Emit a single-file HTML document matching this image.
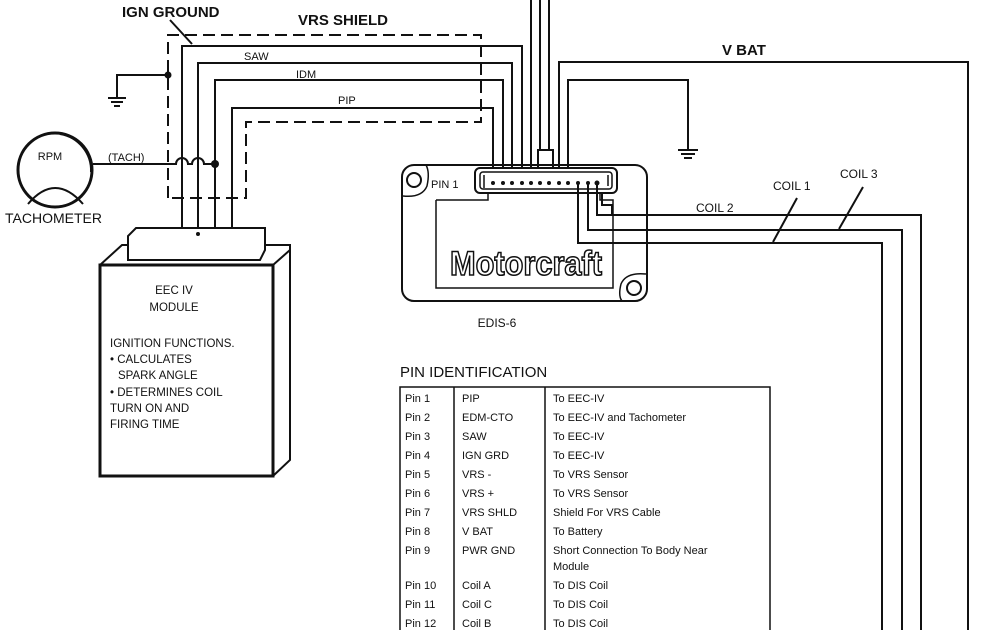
<!DOCTYPE html>
<html><head><meta charset="utf-8"><style>
html,body{margin:0;padding:0;background:#fff;}
svg{display:block;}
text{font-family:"Liberation Sans",sans-serif;fill:#111;}
</style></head><body>
<svg width="1000" height="630" viewBox="0 0 1000 630" xmlns="http://www.w3.org/2000/svg">
<g fill="none" stroke="#111" stroke-width="2">
<!-- shield dashed -->
<path d="M168,198 V35 H481 V122 H246 V198 H168" stroke-dasharray="12,6"/>
<!-- wires from EEC -->
<path d="M182,228 V46 H522 V168"/>
<path d="M198,228 V63 H512 V168"/>
<path d="M215,228 V80 H503 V168"/>
<path d="M232,228 V108 H493 V168"/>
<!-- ground from shield -->
<path d="M168,75 H117 V98"/>
<path d="M108,98 H126 M111,102 H123 M114,106 H120"/>
<!-- ign ground arrow -->
<path d="M170,20 L192,44"/>
<!-- tach line -->
<path d="M93,164 H176 a6,6 0 0 1 12,0 H192 a6,6 0 0 1 12,0 H215"/>
<!-- top verticals -->
<path d="M531,0 V168 M540,0 V150 M549,0 V150"/>
<path d="M538,168 V150 H553 V168"/>
<!-- VBAT -->
<path d="M559,168 V62 H968 V630"/>
<!-- power ground -->
<path d="M568,168 V80 H688 V150"/>
<path d="M678,150 H698 M681,154 H695 M684,158 H692"/>
<!-- coil wires -->
<path d="M597,183 V215 H921 V630"/>
<path d="M588,183 V230 H902 V630"/>
<path d="M578,183 V243 H882 V630"/>
<path d="M602,193 V205 H612 V215"/>
<!-- coil arrows -->
<path d="M797,198 L773,242 M863,187 L839,229"/>
<!-- EDIS module -->
<rect x="402" y="165" width="245" height="136" rx="12"/>
<path d="M403,196 Q422,198 427,186 Q430,172 426,165" stroke-width="1.5"/>
<circle cx="414" cy="180" r="7"/>
<path d="M646,274 Q626,272 621,284 Q618,296 622,301" stroke-width="1.5"/>
<circle cx="634" cy="288" r="7"/>
<rect x="475" y="168" width="142" height="25" rx="5"/>
<rect x="480" y="172" width="132" height="17" rx="3" stroke-width="1.5"/>
<path d="M484,188 V175 M608,175 V186" stroke-width="1.5"/>
<path d="M436,200 H488 V193 M600,193 V200 H613 V288 H436 V200" stroke-width="1.5"/>
<!-- EEC module -->
<path d="M100,265 H273 V476 H100 Z" stroke-width="3"/>
<path d="M100,265 L122,245 H128 M265,245 H290 V460 L273,476 M273,265 L290,250"/>
<path d="M128,260 V236 L136,228 H265 V250 L260,260 Z"/>
<!-- tachometer -->
<circle cx="55" cy="170" r="37" stroke-width="3"/>
<path d="M28,204 Q55,172 83,204"/>
<path d="M60,134 a37,37 0 0 1 31,38"/>
<!-- table -->
<path d="M400,630 V387 H770 V630 M454,387 V630 M545,387 V630" stroke-width="1.5"/>
</g>
<g fill="#111">
<circle cx="168" cy="75" r="3.5"/>
<circle cx="215" cy="164" r="4"/>
<circle cx="198" cy="234" r="2"/>
<g>
<circle cx="493" cy="183" r="2"/><circle cx="503" cy="183" r="2"/><circle cx="512" cy="183" r="2"/><circle cx="522" cy="183" r="2"/><circle cx="531" cy="183" r="2"/><circle cx="540" cy="183" r="2"/><circle cx="549" cy="183" r="2"/><circle cx="559" cy="183" r="2"/><circle cx="568" cy="183" r="2"/><circle cx="578" cy="183" r="2"/><circle cx="588" cy="183" r="2"/><circle cx="597" cy="183" r="2.5"/>
</g>
</g>
<text x="122" y="17" font-size="15" font-weight="bold">IGN GROUND</text>
<text x="298" y="25" font-size="15" font-weight="bold">VRS SHIELD</text>
<text x="244" y="60" font-size="11">SAW</text>
<text x="296" y="78" font-size="11">IDM</text>
<text x="338" y="104" font-size="11">PIP</text>
<text x="108" y="161" font-size="11">(TACH)</text>
<text x="50" y="160" font-size="11" text-anchor="middle">RPM</text>
<text x="5" y="223" font-size="14">TACHOMETER</text>
<text x="722" y="55" font-size="15" font-weight="bold">V BAT</text>
<text x="431" y="188" font-size="11">PIN 1</text>
<text x="450" y="275" font-size="34" font-weight="bold" stroke="#111" stroke-width="1.6" textLength="152" lengthAdjust="spacingAndGlyphs" style="fill:#fff">Motorcraft</text>
<text x="497" y="327" font-size="12" text-anchor="middle">EDIS-6</text>
<text x="696" y="212" font-size="12">COIL 2</text>
<text x="773" y="190" font-size="12">COIL 1</text>
<text x="840" y="178" font-size="12">COIL 3</text>
<g font-size="11.5">
<text x="174" y="294" text-anchor="middle">EEC IV</text>
<text x="174" y="311" text-anchor="middle">MODULE</text>
<text x="110" y="347">IGNITION FUNCTIONS.</text>
<text x="110" y="363">• CALCULATES</text>
<text x="118" y="379">SPARK ANGLE</text>
<text x="110" y="396">• DETERMINES COIL</text>
<text x="110" y="412">TURN ON AND</text>
<text x="110" y="428">FIRING TIME</text>
</g>
<text x="400" y="377" font-size="15">PIN IDENTIFICATION</text>
<g font-size="11">
<text x="405" y="402">Pin 1</text><text x="462" y="402">PIP</text><text x="553" y="402">To EEC-IV</text>
<text x="405" y="421">Pin 2</text><text x="462" y="421">EDM-CTO</text><text x="553" y="421">To EEC-IV and Tachometer</text>
<text x="405" y="440">Pin 3</text><text x="462" y="440">SAW</text><text x="553" y="440">To EEC-IV</text>
<text x="405" y="459">Pin 4</text><text x="462" y="459">IGN GRD</text><text x="553" y="459">To EEC-IV</text>
<text x="405" y="478">Pin 5</text><text x="462" y="478">VRS  -</text><text x="553" y="478">To VRS Sensor</text>
<text x="405" y="497">Pin 6</text><text x="462" y="497">VRS  +</text><text x="553" y="497">To VRS Sensor</text>
<text x="405" y="516">Pin 7</text><text x="462" y="516">VRS SHLD</text><text x="553" y="516">Shield For VRS Cable</text>
<text x="405" y="535">Pin 8</text><text x="462" y="535">V BAT</text><text x="553" y="535">To Battery</text>
<text x="405" y="554">Pin 9</text><text x="462" y="554">PWR GND</text><text x="553" y="554">Short Connection To Body Near</text>
<text x="553" y="570">Module</text>
<text x="405" y="589">Pin 10</text><text x="462" y="589">Coil A</text><text x="553" y="589">To DIS Coil</text>
<text x="405" y="608">Pin 11</text><text x="462" y="608">Coil C</text><text x="553" y="608">To DIS Coil</text>
<text x="405" y="627">Pin 12</text><text x="462" y="627">Coil B</text><text x="553" y="627">To DIS Coil</text>
</g>
</svg>
</body></html>
